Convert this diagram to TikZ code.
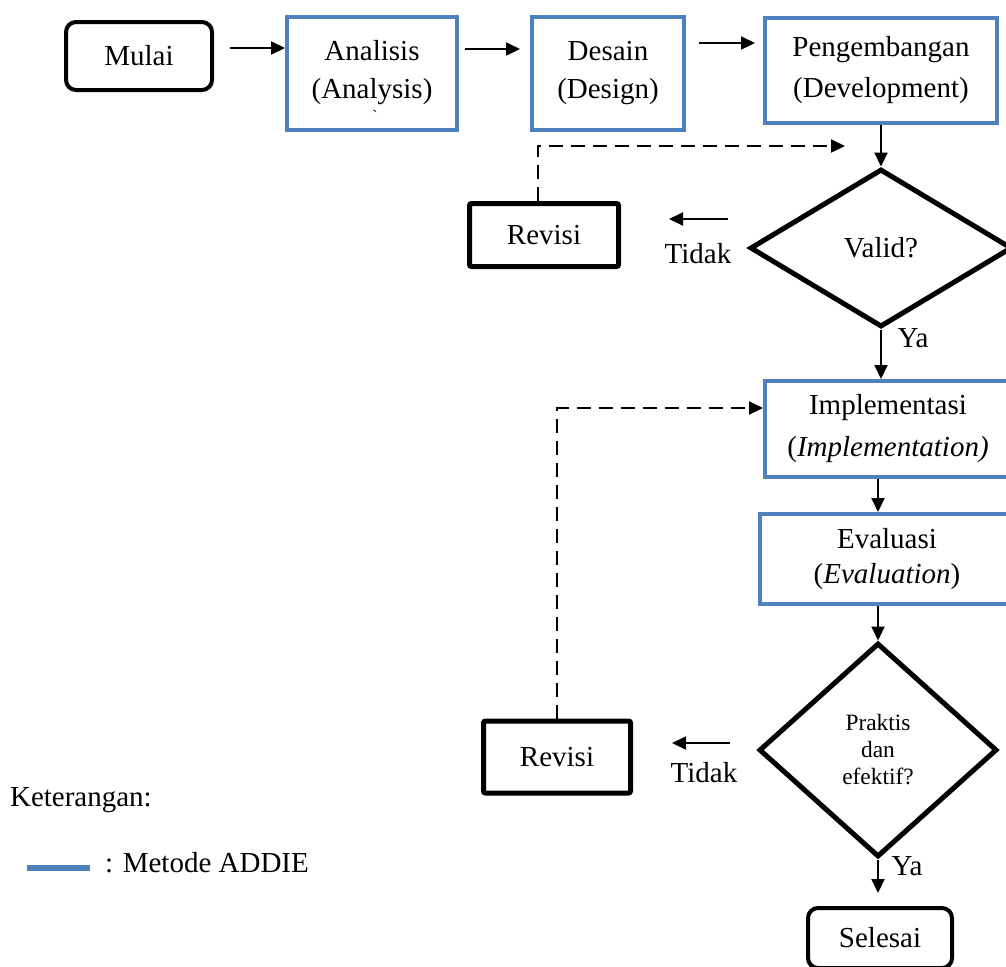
\documentclass[tikz,border=0pt]{standalone}
\usepackage{fontspec}
\setmainfont{Liberation Serif}
\usetikzlibrary{arrows.meta,positioning,shapes.geometric}
\definecolor{addieblue}{RGB}{79,129,189}

\begin{document}
\begin{tikzpicture}[
    x=0.5pt,
    y=-0.5pt,
    font=\fontsize{14.5}{19}\selectfont,
    >={Triangle[length=7pt,width=6.5pt]},
    addie/.style={draw=addieblue, line width=2pt, align=center, inner sep=2pt},
    terminal/.style={draw, line width=2pt, rounded corners=5pt, inner sep=2pt},
    revbox/.style={draw, line width=2.5pt, rounded corners=1pt, inner sep=2pt},
    decision/.style={diamond, draw, line width=2.5pt, inner sep=0pt, align=center},
    flow/.style={->, line width=1pt},
    back/.style={->, line width=1pt, dash pattern=on 7pt off 4pt},
  ]
  \useasboundingbox (0,0) rectangle (1006,966);

  % === Top row ===
  \node[terminal, minimum width=73pt, minimum height=34pt] (mulai) at (139,56) {Mulai};
  \node[addie, minimum width=85pt, minimum height=56.5pt] (analisis) at (372,73.5)
    {Analisis\\(Analysis)\\[-14.5pt]\phantom{x}};
  \node[font=\fontsize{8}{8}\selectfont] (tick) at (375,116) {\textasciigrave};
  \node[addie, minimum width=76pt, minimum height=56.5pt] (desain) at (608,73.5)
    {Desain\\(Design)};
  \node[addie, minimum width=116pt, minimum height=52.5pt] (pengembangan) at (881,70)
    {Pengembangan\\[1.5pt](Development)};

  \draw[flow] ([shift={(8pt,4pt)}]mulai.east) -- ([yshift=4pt]mulai.east -| analisis.west);
  \draw[flow] ([shift={(3pt,12.25pt)}]analisis.east) -- ([shift={(-5pt,12.25pt)}]analisis.east -| desain.west);
  \draw[flow] ([shift={(6.5pt,15.25pt)}]desain.east) -- ([shift={(-4pt,15.25pt)}]desain.east -| pengembangan.west);

  % === Validation loop ===
  \node[decision, minimum width=131pt, minimum height=79pt] (valid) at (881,248) {Valid?};
  \node[revbox, minimum width=74.5pt, minimum height=31.5pt] (revisi1) at (544,235) {Revisi};
  \coordinate (fb1) at (845,146);
  \coordinate (tidak1a) at (728,219);
  \coordinate (tidak1b) at (669,219);

  \draw[flow] (pengembangan.south) -- (valid.north);
  \draw[flow] (tidak1a) -- (tidak1b);
  \node (tidak1) at (698,254) {Tidak};
  \draw[back] ([xshift=-3pt]revisi1.north) |- (fb1);
  \node (ya1) at (913,338) {Ya};

  % === Implementation and evaluation ===
  \node[addie, minimum width=123pt, minimum height=48pt] (implementasi) at (888,429)
    {Implementasi\\[2pt](\textit{Implementation)}};
  \node[addie, minimum width=127pt, minimum height=45pt] (evaluasi) at (887,559)
    {Evaluasi\\[-1.5pt](\textit{Evaluation})};
  \node[decision, minimum width=119pt, minimum height=107pt,
        font=\fontsize{11.7}{13.5}\selectfont] (praktis) at (878,750)
    {Praktis\\dan\\efektif?};

  \draw[flow] (valid.south) -- (valid.south |- implementasi.north);
  \draw[flow] (implementasi.south -| praktis.north) -- (evaluasi.north -| praktis.north);
  \draw[flow] (evaluasi.south -| praktis.north) -- (praktis.north);

  % === Practicality loop ===
  \node[revbox, minimum width=73.5pt, minimum height=36pt] (revisi2) at (557,757) {Revisi};
  \coordinate (tidak2a) at (730,743);
  \coordinate (tidak2b) at (672,743);
  \draw[flow] (tidak2a) -- (tidak2b);
  \node (tidak2) at (704,773) {Tidak};
  \draw[back] (revisi2.north) |- ([yshift=10.5pt]implementasi.west);

  % === End ===
  \node[terminal, minimum width=72pt, minimum height=30pt] (selesai) at (880,938) {Selesai};
  \draw[flow, shorten >=6.5pt] (praktis.south) -- (praktis.south |- selesai.north);
  \node (ya2) at (907,866) {Ya};

  % === Legend ===
  \node[anchor=west] (keterangan) at (3,800) {Keterangan:};
  \draw[addieblue, line width=3pt] (27,868) -- (90,868);
  \node[anchor=west] (metode) at (98,863) {: Metode ADDIE};

\end{tikzpicture}
\end{document}
